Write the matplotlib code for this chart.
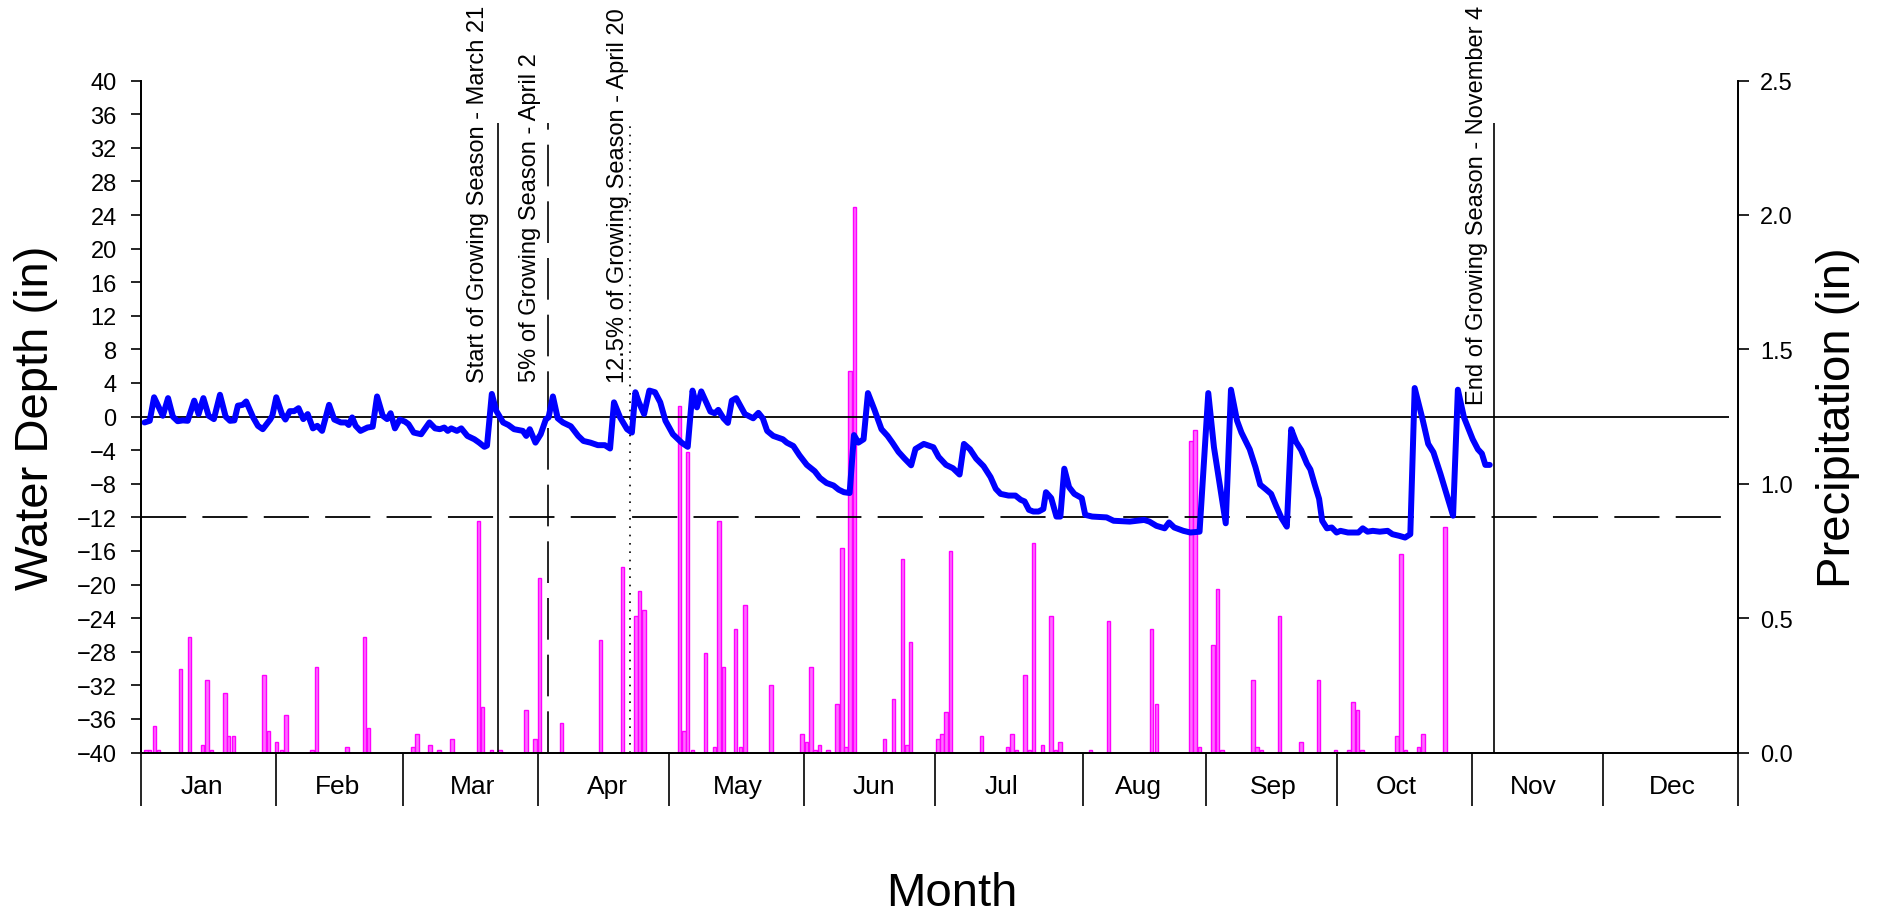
import matplotlib
matplotlib.use("Agg")
import matplotlib.pyplot as plt

plt.rcParams['font.family'] = ['Liberation Sans', 'DejaVu Sans']

# daily water depth (in), day of year (leap year)
depth_day = [0.8, 2.0, 3.0, 5.0, 6.2, 7.3, 8.4, 9.6, 10.7, 12.2, 13.2, 14.3, 15.5, 16.7, 18.1,
             19.4, 20.4, 21.4, 22.2, 23.3, 24.1, 25.7, 26.8, 27.9, 29.6, 30.1, 31.0, 32.3, 33.1,
             34.1, 35.1, 36.1, 37.2, 38.2, 39.4, 40.4, 41.5, 43.1, 44.3, 45.8, 47.0, 47.6, 48.4,
             49.2, 50.3, 51.9, 53.1, 54.1, 55.4, 56.4, 57.2, 58.2, 59.3, 60.5, 61.3, 62.5, 64.2,
             66.1, 67.4, 68.5, 69.5, 70.3, 71.1, 72.4, 73.4, 74.8, 76.4, 77.5, 78.7, 79.3, 80.4,
             81.4, 83.0, 84.2, 85.5, 87.5, 88.3, 89.1, 90.4, 91.6, 92.8, 93.4, 94.4, 95.5, 96.7,
             98.5, 100.2, 101.4, 103.0, 104.7, 106.3, 107.5, 108.4, 109.8, 111.4, 112.5, 113.3,
             114.1, 115.3, 116.5, 117.8, 119.0, 120.2, 121.9, 123.9, 125.3,
             126.4, 127.4, 128.4, 130.5, 131.5, 132.3, 133.5, 134.5, 135.4, 136.4, 138.4, 140.3,
             141.5, 142.5, 143.5, 144.9, 147.1, 148.0, 149.5, 150.9, 152.6, 154.4, 155.6, 157.1,
             158.7, 159.9, 161.1, 162.4, 163.4, 164.4, 165.6, 166.6, 168.1, 169.7, 171.1, 172.2,
             173.6, 175.0, 176.5, 177.5, 179.4, 181.6, 182.8, 184.5, 186.1, 187.6, 188.6, 190.0,
             191.4, 193.1, 194.7, 195.9, 197.0, 198.8, 200.4, 201.6, 202.5, 203.5, 204.5, 205.7,
             206.8, 207.4, 208.6, 209.8, 210.7, 211.6, 212.7, 213.9, 215.6, 216.4, 218.0, 221.3,
             222.9, 226.6, 229.9, 231.1, 232.7, 234.6, 235.6, 236.8, 238.9, 240.5, 242.6,
             244.6, 245.9, 248.6, 249.8, 251.2, 252.2, 254.1, 255.4, 256.5, 257.9, 259.0, 260.2,
             261.4, 262.6, 263.6, 264.7, 265.9, 267.2, 268.0, 269.0, 270.0, 270.7, 271.8, 272.9,
             274.0, 274.9, 276.6, 279.0, 280.0, 281.1, 282.3, 283.9, 285.7, 286.8, 288.4, 289.7,
             290.9, 291.9, 293.7, 295.0, 296.2, 297.8, 300.7, 301.8, 303.2, 305.2, 306.4, 307.3,
             308.1, 309.1]
depth = [-0.7, -0.5, 2.3, 0.1, 2.2, 0.0, -0.55, -0.45, -0.5, 1.9, 0.3, 2.2, 0.1, -0.3, 2.6,
         0.0, -0.5, -0.45, 1.3, 1.4, 1.8, -0.1, -1.1, -1.5, -0.35, 0.1, 2.3, 0.3, -0.35,
         0.65, 0.65, 1.0, -0.3, 0.3, -1.4, -1.1, -1.7, 1.4, -0.35, -0.7, -0.7, -1.0, -0.1,
         -1.1, -1.7, -1.3, -1.2, 2.4, 0.1, -0.3, 0.4, -1.4, -0.35, -0.6, -0.9, -1.9, -2.1,
         -0.7, -1.4, -1.5, -1.3, -1.7, -1.4, -1.7, -1.4, -2.3, -2.7, -3.1, -3.6, -3.45, 2.7,
         0.7, -0.7, -1.0, -1.5, -1.7, -2.3, -1.5, -3.1, -2.1, -0.3, -0.1, 2.4, -0.2, -0.7,
         -1.15, -2.3, -2.9, -3.1, -3.4, -3.4, -3.8, 1.7, -0.1, -1.5, -1.9, 2.9,
         1.7, 0.3, 3.1, 2.9, 1.7, -0.5, -2.1, -3.1, -3.6,
         3.1, 1.1, 3.0, 0.6, 0.4, 0.8, -0.2, -0.75, 1.9, 2.2, 0.3, -0.2,
         0.45, -0.2, -1.7, -2.3, -2.7, -3.1, -3.5, -4.6, -5.75, -6.5, -7.3, -7.9,
         -8.2, -8.7, -9.0, -9.1, -2.2, -3.1, -2.7, 2.8, 0.8, -1.5, -2.3, -3.1,
         -4.2, -5.0, -5.8, -3.85, -3.25, -3.65, -4.8, -5.75, -6.15, -6.9, -3.25, -3.9,
         -5.0, -5.9, -7.2, -8.6, -9.2, -9.4, -9.4, -9.9, -10.1, -11.1, -11.3, -11.3,
         -11.0, -9.0, -9.7, -11.9, -11.9, -6.2, -8.4, -9.2, -9.7, -11.7, -11.9, -12.0,
         -12.4, -12.5, -12.3, -12.5, -13.0, -13.3, -12.6, -13.2, -13.6, -13.8, -13.7,
         2.8, -3.65, -12.7, 3.2, -0.5, -1.9, -3.9, -6.0, -8.1, -8.7, -9.2, -10.7,
         -12.1, -13.1, -1.5, -3.0, -4.0, -5.6, -6.3, -8.1, -9.8, -12.4, -13.3, -13.2,
         -13.8, -13.6, -13.8, -13.8, -13.3, -13.7, -13.6, -13.7, -13.6, -14.0, -14.2, -14.4,
         -14.0, 3.4, -0.3, -3.25, -4.25, -6.8, -11.8, 3.2, -0.1, -2.7, -3.9, -4.4,
         -5.75, -5.75]

# daily precipitation (in)
rain_day = [1.2, 2.0, 3.05, 4.0, 9.1, 11.1, 14.1, 15.1, 16.1, 19.2, 20.1, 21.2, 28.2, 29.2,
            31.1, 32.2, 33.2, 39.2, 40.2, 47.2, 51.2, 52.1, 62.3, 63.3, 66.2, 68.3, 71.3,
            77.4, 78.3, 80.3, 82.3, 88.2, 90.3, 91.3, 96.4, 105.3, 110.4, 113.4, 114.3,
            115.3, 123.4, 124.5, 125.3, 126.4, 129.4, 131.4, 132.5, 133.5, 136.3, 137.4,
            138.4, 144.4, 151.5, 152.5, 153.5, 154.5, 155.5, 157.5, 159.5, 160.6, 161.6,
            162.5, 163.5, 170.4, 172.4, 174.5, 175.5, 176.4, 182.6, 183.6, 184.5, 185.5,
            192.6, 198.6, 199.6, 200.6, 202.6, 203.6, 204.6, 206.6, 208.6, 209.6, 210.6,
            217.6, 221.7, 231.6, 232.7, 240.6, 241.6, 242.6, 245.7, 246.7, 247.7, 254.8,
            255.8, 256.8, 260.9, 265.8, 269.9, 273.8, 276.8, 277.8, 278.8, 279.8, 287.8,
            288.8, 289.8, 292.8, 293.8, 298.8]
rain = [0.011, 0.011, 0.10, 0.011, 0.31, 0.43, 0.03, 0.27, 0.011, 0.22, 0.06, 0.06, 0.29, 0.08,
        0.04, 0.011, 0.14, 0.011, 0.32, 0.02, 0.43, 0.09, 0.02, 0.07, 0.03, 0.011, 0.05,
        0.86, 0.17, 0.011, 0.011, 0.16, 0.05, 0.65, 0.11, 0.42, 0.69, 0.51, 0.60,
        0.53, 1.29, 0.08, 1.12, 0.011, 0.37, 0.02, 0.86, 0.32, 0.46, 0.02,
        0.55, 0.25, 0.07, 0.04, 0.32, 0.011, 0.03, 0.011, 0.18, 0.76, 0.02,
        1.42, 2.03, 0.05, 0.20, 0.72, 0.03, 0.41, 0.05, 0.07, 0.15, 0.75,
        0.06, 0.02, 0.07, 0.011, 0.29, 0.011, 0.78, 0.03, 0.51, 0.011, 0.04,
        0.011, 0.49, 0.46, 0.18, 1.16, 1.20, 0.02, 0.40, 0.61, 0.011, 0.27,
        0.02, 0.011, 0.51, 0.04, 0.27, 0.011, 0.011, 0.19, 0.16, 0.011, 0.06,
        0.74, 0.011, 0.02, 0.07, 0.84]

months = ['Jan', 'Feb', 'Mar', 'Apr', 'May', 'Jun', 'Jul', 'Aug', 'Sep', 'Oct', 'Nov', 'Dec']
month_edges = [0, 31, 60, 91, 121, 152, 182, 216, 244, 274, 305, 335, 366]
month_label_x = [14, 45, 76, 106.8, 136.7, 167.9, 197.2, 228.6, 259.4, 287.7, 319.1, 351]

# growing season markers
season_day = [81.8, 93.2, 112.1, 310.1]
season_text = ['Start of Growing Season - March 21', '5% of Growing Season - April 2',
               '12.5% of Growing Season - April 20', 'End of Growing Season - November 4']
season_text_x = [77.2, 89.1, 109.3, 306.1]
season_text_y = [4.1, 4.2, 4.1, 1.5]

W, H = 1881, 920
fig = plt.figure(figsize=(W / 100, H / 100), dpi=100)
L, R, T, B = 141, 1738, 81.6, 753.6
ax = fig.add_axes([L / W, 1 - B / H, (R - L) / W, (B - T) / H])
ax2 = ax.twinx()

# precipitation bars (right axis), drawn underneath
ax2.bar(rain_day, rain, width=0.8, color='#ff6cff', edgecolor='#ff00ff', linewidth=1.0)
ax2.set_ylim(0, 2.5)
ax2.set_yticks([0, 0.5, 1.0, 1.5, 2.0, 2.5])
ax2.set_yticklabels(['0.0', '0.5', '1.0', '1.5', '2.0', '2.5'])
ax2.tick_params(axis='y', labelsize=17, length=8, width=1.2, pad=8)

ax.set_zorder(ax2.get_zorder() + 1)
ax.patch.set_visible(False)

# reference lines
ax.hlines(0, 0, 364, colors='black', linewidth=1.3)
ax.hlines(-12, 0, 364, colors='black', linewidth=1.3, linestyles=(0, (25, 9)))
styles = ['-', (0, (25, 9)), (0, (1, 4)), '-']
for d, ls in zip(season_day, styles):
    ax.vlines(d, -40, 35, colors='black', linewidth=1.2, linestyles=ls)
for tx, ty, s in zip(season_text_x, season_text_y, season_text):
    ax.text(tx, ty, s, rotation=90, ha='center', va='bottom', fontsize=17)

ax.plot(depth_day, depth, color='#0000ff', linewidth=4.3, solid_joinstyle='round',
        solid_capstyle='round')

ax.set_xlim(0, 366)
ax.set_ylim(-40, 40)
ax.set_yticks(range(-40, 41, 4))
ax.tick_params(axis='y', labelsize=17, length=7.5, width=1.2, pad=10)

# month band under the plot
ax.set_xticks(month_edges)
ax.set_xticklabels([])
ax.tick_params(axis='x', length=38, width=1.2, direction='out')
for m, x in zip(months, month_label_x):
    ax.text(x, -0.049, m, transform=ax.get_xaxis_transform(), ha='center', va='center',
            fontsize=19)

for a in (ax, ax2):
    a.spines['top'].set_visible(False)
    for s in a.spines.values():
        s.set_linewidth(1.3)

fig.text(36 / W, 1 - 417.6 / H, 'Water Depth (in)', rotation=90, ha='center', va='center',
         fontsize=34)
fig.text(1838 / W, 1 - 417.6 / H, 'Precipitation (in)', rotation=90, ha='center', va='center',
         fontsize=34)
fig.text(952 / W, 1 - 894 / H, 'Month', ha='center', va='center', fontsize=34)

fig.savefig('out.png', dpi=100)
